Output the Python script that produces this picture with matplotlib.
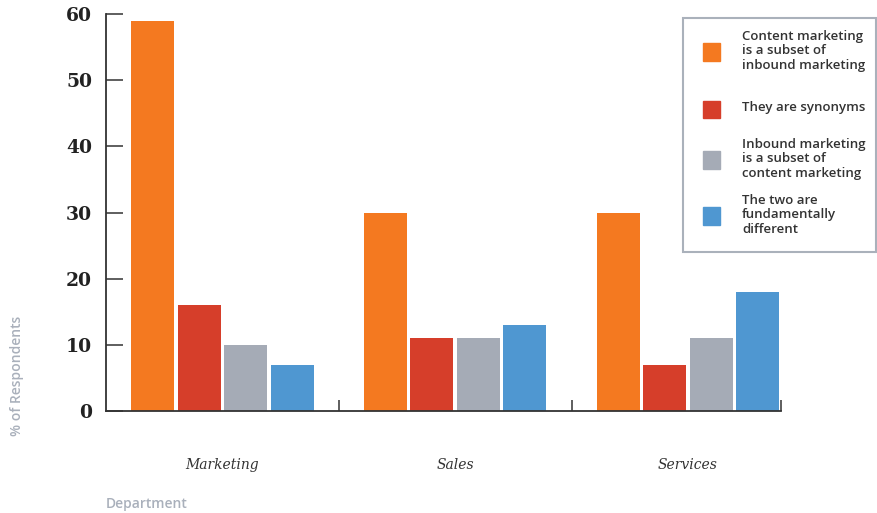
import numpy as np
import matplotlib
matplotlib.use("Agg")
import matplotlib.pyplot as plt
from matplotlib.patches import Rectangle

departments = ["Marketing", "Sales", "Services"]
series = [
    "Content marketing\nis a subset of\ninbound marketing",
    "They are synonyms",
    "Inbound marketing\nis a subset of\ncontent marketing",
    "The two are\nfundamentally\ndifferent",
]
subset_inbound = [59, 30, 30]
synonyms = [16, 11, 7]
subset_content = [10, 11, 11]
different = [7, 13, 18]
values = [subset_inbound, synonyms, subset_content, different]
colors = ["#f47920", "#d63e2a", "#a5abb6", "#4f97d1"]

fig = plt.figure(figsize=(8.78, 5.13), dpi=100)
ax = fig.add_axes([106 / 878, 1 - 411 / 513, (781 - 106) / 878, (411 - 14) / 513])

x = np.arange(len(departments))
step = 0.2
w = 0.185
for i, (vals, c) in enumerate(zip(values, colors)):
    ax.bar(x + (i - 1.5) * step, vals, w, color=c, zorder=2)

ax.set_xlim(-0.5, 2.4)
ax.set_ylim(0, 60)
for s in ("top", "right"):
    ax.spines[s].set_visible(False)
for s in ("left", "bottom"):
    ax.spines[s].set_color("#333333")
    ax.spines[s].set_linewidth(1.3)

ax.set_yticks([0, 10, 20, 30, 40, 50, 60])
ax.tick_params(axis="y", direction="in", length=12, width=1.1, color="#333333", pad=10)
for lab in ax.get_yticklabels():
    lab.set_fontfamily("DejaVu Serif")
    lab.set_fontweight("bold")
    lab.set_fontsize(13.5)
    lab.set_color("#222222")

ax.set_xticks(x)
ax.set_xticklabels(departments, fontfamily="DejaVu Serif", fontstyle="italic",
                   fontsize=10, color="#333333")
ax.tick_params(axis="x", which="major", length=0, pad=34)
ax.set_xticks([0.5, 1.5, 2.4], minor=True)
ax.tick_params(axis="x", which="minor", direction="in", length=8, width=1.1, color="#333333")

fig.text(17 / 878, 1 - 376 / 513, "% of Respondents", rotation=90, ha="center", va="center",
         fontsize=10, fontweight="semibold", color="#a9b0bb", family="Open Sans")
fig.text(106 / 878, 1 - 504 / 513, "Department", ha="left", va="center",
         fontsize=10, fontweight="semibold", color="#a9b0bb", family="Open Sans")

# legend box drawn by hand
fig.add_artist(Rectangle((683 / 878, 1 - 252 / 513), (876 - 683) / 878, (252 - 18) / 513,
                         transform=fig.transFigure, fill=False, edgecolor="#aab1bb", linewidth=1.5))
ys = [52, 109, 160, 216]
for lbl, c, yy in zip(series, colors, ys):
    fig.add_artist(Rectangle((703 / 878, 1 - (yy + 8.5) / 513), 17 / 878, 17 / 513,
                             transform=fig.transFigure, color=c))
    fig.text(742 / 878, 1 - (yy - 1) / 513, lbl, ha="left", va="center", fontsize=9.5,
             fontweight="semibold", color="#333333", family="Open Sans", linespacing=1.15)

fig.savefig("out.png", dpi=100)
